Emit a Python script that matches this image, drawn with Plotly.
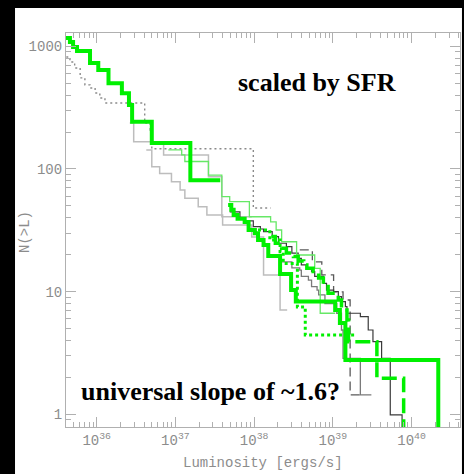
import plotly.graph_objects as go

# ---- data: log10(L [erg/s]) and N(>L) ----
# thick green, low-luminosity galaxy
A_logL = [35.55, 35.66, 35.70, 35.75, 35.915, 36.02, 36.15, 36.32, 36.41, 36.45, 36.70, 37.19, 37.57]
A_N = [1167, 1084, 986, 916, 731, 641, 499, 414, 332, 243, 163, 81, 81]

# gray dotted
F_logL = [35.55, 35.66, 35.72, 35.79, 35.85, 35.915, 35.98, 36.04, 36.105, 36.61, 36.68, 36.70, 37.99, 38.21]
F_N = [818, 745, 665, 552, 484, 457, 416, 379, 345, 237, 208, 146, 48, 48]

# light gray solid (upper)
G1_logL = [36.42, 36.47, 36.85, 37.42, 37.59, 37.97]
G1_N = [237, 167, 130, 86.5, 40.8, 40.8]

# light gray solid (lower staircase)
G2_logL = [36.63, 36.70, 36.80, 36.95, 37.06, 37.12, 37.29, 37.40, 37.60, 37.97, 38.12, 38.33, 38.42]
G2_N = [143, 104, 92, 78.7, 67.4, 57.7, 49.3, 42.2, 35.0, 27.9, 13.7, 7.1, 7.1]

# dark gray solid
H_logL = [37.69, 37.82, 37.88, 37.99, 38.08, 38.12, 38.23, 38.31, 38.41, 38.48, 38.56, 38.60, 38.67, 38.73,
          38.77, 38.88, 38.92, 39.01, 39.07, 39.11, 39.16, 39.18, 39.35, 39.45, 39.51, 39.62, 39.73, 39.88]
H_N = [44.7, 39.9, 37.7, 33.9, 32.4, 30.8, 28.1, 24.8, 23.3, 20.6, 18.7, 16.5, 15.5, 14.6,
       13.3, 11.7, 10.3, 10.0, 9.1, 8.3, 7.55, 6.67, 6.25, 4.87, 3.91, 2.86, 0.99, 0.5]

# medium gray solid
J_logL = [38.33, 38.48, 38.58, 38.60, 38.69, 38.73, 38.80, 38.82, 38.90, 39.05, 39.11, 39.13, 39.35, 39.49]
J_N = [17.5, 15.6, 15.0, 13.3, 12.4, 11.0, 10.3, 9.4, 8.0, 6.67, 4.87, 2.86, 1.44, 1.44]

# dark gray dashed
I_logL = [38.58, 38.74, 38.86, 39.01, 39.13, 39.22, 39.37]
I_N = [21.9, 17.5, 13.7, 9.95, 8.55, 1.44, 1.44]

# thin green solid
C_logL = [36.91, 37.08, 37.12, 37.42, 37.59, 37.69, 37.94, 38.21, 38.28, 38.35, 38.54, 38.77, 38.84, 39.03]
C_N = [143, 130, 115, 89, 59.4, 54.1, 40.8, 37.0, 31.8, 25.5, 19.9, 15.5, 6.67, 6.67]

# thick green dotted
D_logL = [38.05, 38.20, 38.33, 38.37, 38.55, 38.65, 39.30]
D_N = [31.8, 26.4, 21.1, 17.0, 7.5, 4.44, 4.44]

# thick green dashed
E_logL = [38.22, 38.27, 38.35, 38.41, 38.50, 38.56, 38.63, 38.67, 38.75, 38.82, 38.88, 38.94, 39.07,
          39.11, 39.18, 39.20, 39.56, 39.90]
E_N = [28.1, 24.8, 22.6, 20.7, 19.3, 17.8, 16.5, 15.5, 14.6, 12.9, 11.0, 9.7, 8.55,
       7.1, 5.87, 3.91, 1.97, 0.5]

# thick green solid (main)
B_logL = [37.67, 37.71, 37.74, 37.79, 37.88, 37.93, 38.01, 38.05, 38.12, 38.18, 38.33, 38.47, 38.53,
          39.03, 39.09, 39.16, 40.34]
B_N = [50.9, 46.4, 42.2, 39.2, 37.0, 31.8, 29.9, 26.4, 24.0, 19.5, 13.9, 10.3, 8.3,
       7.1, 5.56, 2.77, 0.5]

x_ticks = [36, 37, 38, 39, 40]
y_ticks = [1, 10, 100, 1000]

GREEN = "rgb(0,240,0)"

series = [
    (G1_logL, G1_N, dict(color="#bdbdbd", width=1.5)),
    (G2_logL, G2_N, dict(color="#bdbdbd", width=1.5)),
    (F_logL, F_N, dict(color="#8a8a8a", width=1.4, dash="2px,3px")),
    (J_logL, J_N, dict(color="#7a7a7a", width=1.3)),
    (I_logL, I_N, dict(color="#5a5a5a", width=1.3, dash="9px,5px")),
    (H_logL, H_N, dict(color="#3a3a3a", width=1.2)),
    (C_logL, C_N, dict(color="#66e866", width=1.3)),
    (D_logL, D_N, dict(color=GREEN, width=3, dash="dot")),
    (E_logL, E_N, dict(color=GREEN, width=3.5, dash="15px,6px")),
    (B_logL, B_N, dict(color=GREEN, width=4)),
    (A_logL, A_N, dict(color=GREEN, width=4)),
]

fig = go.Figure()
for lx, n, ln in series:
    fig.add_trace(go.Scatter(
        x=[10.0 ** v for v in lx], y=n, mode="lines", line_shape="hv",
        line=ln, showlegend=False, hoverinfo="skip"))


def minor_vals(decades):
    return [float(d) * 10.0 ** k for k in decades for d in range(2, 10)]


LABEL_FONT = "Liberation Mono"
tickfont = dict(family=LABEL_FONT, size=14, color="#8c8c8c")
axis_common = dict(
    type="log", showgrid=False, zeroline=False,
    showline=True, linecolor="#b0b0b0", linewidth=1, mirror="allticks",
    ticks="inside", ticklen=10, tickcolor="#b0b0b0", tickwidth=1,
    tickfont=tickfont,
)

fig.update_xaxes(
    **axis_common,
    range=[35.61, 40.616],
    tickvals=[10.0 ** v for v in x_ticks],
    ticktext=["10<sup>%d</sup>" % v for v in x_ticks],
    minor=dict(ticks="inside", ticklen=5, tickcolor="#b0b0b0", tickwidth=1, showgrid=False,
               tickmode="array", tickvals=minor_vals(range(35, 41))),
)
fig.update_yaxes(
    **axis_common,
    range=[-0.103, 3.108],
    tickvals=[float(v) for v in y_ticks],
    ticktext=[str(v) for v in y_ticks],
    minor=dict(ticks="inside", ticklen=5, tickcolor="#b0b0b0", tickwidth=1, showgrid=False,
               tickmode="array", tickvals=minor_vals(range(-1, 4))),
)

fig.update_layout(
    width=464, height=474,
    margin=dict(l=66, r=4, t=33, b=47),
    paper_bgcolor="black", plot_bgcolor="white",
    shapes=[dict(type="rect", xref="paper", yref="paper", x0=-0.1294, x1=1.005,
                 y0=-0.25, y1=1.0635, fillcolor="white", line=dict(width=0), layer="below")],
    annotations=[
        dict(text="scaled by SFR", xref="paper", yref="paper", x=0.637, y=0.874,
             showarrow=False, xanchor="center", yanchor="middle",
             font=dict(family="Liberation Serif", size=26, color="black", weight="bold")),
        dict(text="universal slope of ~1.6?", xref="paper", yref="paper", x=0.368, y=0.089,
             showarrow=False, xanchor="center", yanchor="middle",
             font=dict(family="Liberation Serif", size=26, color="black", weight="bold")),
        dict(text="Luminosity [ergs/s]", xref="paper", yref="paper", x=0.5, y=-0.091,
             showarrow=False, xanchor="center", yanchor="middle",
             font=dict(family=LABEL_FONT, size=14, color="#8c8c8c")),
        dict(text="N(>L)", xref="paper", yref="paper", x=-0.104, y=0.495, textangle=-90,
             showarrow=False, xanchor="center", yanchor="middle",
             font=dict(family=LABEL_FONT, size=14, color="#8c8c8c")),
    ],
)

fig.write_html("out.html")
